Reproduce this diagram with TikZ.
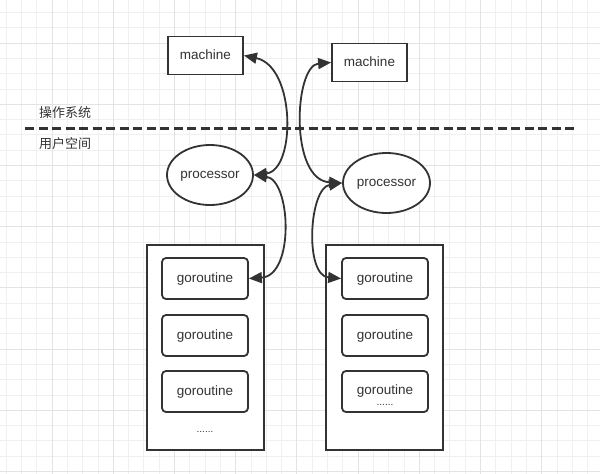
\documentclass[tikz,border=0pt]{standalone}
\usepackage{fontspec}
\setmainfont{Liberation Sans}
\newfontfamily\cjk{Noto Sans CJK SC}
\usetikzlibrary{arrows.meta,shapes.geometric}
\definecolor{ink}{HTML}{333333}
\definecolor{gridminor}{HTML}{F0F0F0}
\definecolor{gridmajor}{HTML}{E3E3E3}
\begin{document}
\begin{tikzpicture}[x=1pt,y=-1pt,
  box/.style={draw=ink,line width=1.8pt,fill=white,text=ink,font=\fontsize{13.5}{15}\selectfont,inner sep=0pt,text height=9.6pt,text depth=2.6pt},
  machinebox/.style={box,rectangle,minimum width=75pt,minimum height=38pt},
  procbox/.style={box,ellipse,minimum width=86pt,minimum height=60pt},
  contbox/.style={draw=ink,line width=1.8pt,fill=white,rectangle,minimum width=117pt,minimum height=205pt,inner sep=0pt},
  gorobox/.style={box,rectangle,rounded corners=4pt,minimum width=86pt,minimum height=41pt},
  link/.style={draw=ink,line width=1.8pt,{Triangle[length=13pt,width=11pt]}-{Triangle[length=13pt,width=11pt]}},
  cjklabel/.style={text=ink,font=\cjk\fontsize{13}{15}\selectfont,inner sep=0pt},
  dots/.style={text=ink,font=\fontsize{10}{12}\selectfont,inner sep=0pt}
]
\useasboundingbox (0,0) rectangle (600,474);
\fill[white] (0,0) rectangle (600,474);
% grid
\foreach \i in {0,...,38}{
  \pgfmathsetmacro\xx{6.1+15.3*\i}
  \draw[gridminor,line width=0.8pt] (\xx,0) -- (\xx,474);
}
\foreach \i in {0,...,30}{
  \pgfmathsetmacro\yy{12.4+15.3*\i}
  \draw[gridminor,line width=0.8pt] (0,\yy) -- (600,\yy);
}
\foreach \i in {0,...,9}{
  \pgfmathsetmacro\xx{6.1+15.3*(4*\i+3)}
  \draw[gridmajor,line width=1pt] (\xx,0) -- (\xx,474);
}
\foreach \i in {0,...,7}{
  \pgfmathsetmacro\yy{12.4+15.3*(4*\i+2)}
  \draw[gridmajor,line width=1pt] (0,\yy) -- (600,\yy);
}
% divider
\coordinate (dl) at (25,128.5);
\coordinate (dr) at (577,128.5);
\draw[ink,line width=2.5pt,dash pattern=on 9pt off 4.5pt] (dl) -- (dr);
\node[cjklabel] (os) at (65,113) {操作系统};
\node[cjklabel] (us) at (65,144) {用户空间};
% machines
\node[machinebox] (m1) at (205.5,55.5) {machine};
\node[machinebox] (m2) at (369.5,62.5) {machine};
% processors
\node[procbox] (p1) at (210,175) {processor};
\node[procbox,minimum width=87pt] (p2) at (386.5,183) {processor};
% containers
\node[contbox] (c1) at (205.5,347.5) {};
\node[contbox] (c2) at (384.5,347.5) {};
% goroutines
\node[gorobox] (g1) at (205,278.5) {goroutine};
\node[gorobox] (g2) at (205,335.5) {goroutine};
\node[gorobox] (g3) at (205,391.5) {goroutine};
\node[gorobox] (g4) at (385,278.5) {goroutine};
\node[gorobox] (g5) at (385,335.5) {goroutine};
\node[gorobox,text height=8.6pt,text depth=3.6pt] (g6) at (385,391.5) {goroutine};
\node[dots] (d1) at (205,432) {......};
\node[dots] (d2) at (385,405) {......};
% links
\draw[link] (m1.east) .. controls +(52,11) and +(42,-5) .. (p1.east);
\draw[link] (p1.east) .. controls +(37,5) and +(46,-3) .. (g1.east);
\draw[link] (m2.west) .. controls +(-37,3) and +(-53,-3) .. (p2.west);
\draw[link] (p2.west) .. controls +(-33,5) and +(-37,-3) .. (g4.west);
\end{tikzpicture}
\end{document}
